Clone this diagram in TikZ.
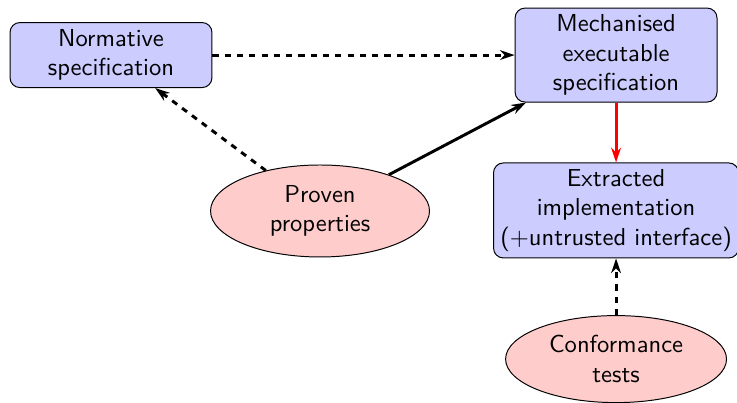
\documentclass[tikz,border=0pt]{standalone}
\usepackage{tikz}
\usetikzlibrary{arrows.meta,shapes.geometric}
\tikzset{box/.style={draw,rounded corners=4pt,fill=blue!20,align=center,font=\sffamily,inner sep=0pt},blob/.style={draw,ellipse,fill=red!20,align=center,font=\sffamily,inner sep=0pt},link/.style={line width=1.2pt,-{Stealth[length=2.1mm,width=1.4mm]}},dashlink/.style={link,dash pattern=on 2.5pt off 2.5pt}}

\begin{document}
\begin{tikzpicture}[x=1in,y=-1in]
\path[use as bounding box] (0,0) rectangle (4.15,2.269);
\node[box,minimum width=1.137in,minimum height=0.366in] (norm) at (0.62500,0.31000) {Normative\\specification};
\node[box,minimum width=1.137in,minimum height=0.529in] (mech) at (3.46900,0.31000) {Mechanised\\executable\\specification};
\node[box,minimum width=1.380in,minimum height=0.535in] (extr) at (3.46900,1.18500) {Extracted\\implementation\\(+untrusted interface)};
\node[blob,minimum width=1.233in,minimum height=0.518in] (proof) at (1.80200,1.18800) {Proven\\properties};
\node[blob,minimum width=1.244in,minimum height=0.490in] (conf) at (3.46900,2.02200) {Conformance\\tests};
\draw[dashlink] (norm) -- (mech);
\draw[dashlink] (proof) -- (norm);
\draw[link] (proof) -- (mech);
\draw[link,red] (mech) -- (extr);
\draw[dashlink] (conf) -- (extr);
\end{tikzpicture}
\end{document}
